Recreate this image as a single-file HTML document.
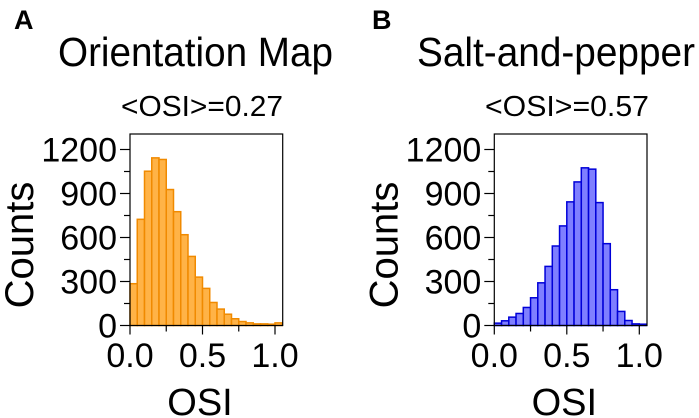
<!DOCTYPE html>
<html><head><meta charset="utf-8"><style>
html,body{margin:0;padding:0;background:#fff;}
svg{display:block;font-family:"Liberation Sans",Arial,sans-serif;}
</style></head><body>
<svg id="fig" width="699" height="418" viewBox="0 0 699 418">
<text x="14" y="29" font-size="27" font-weight="bold">A</text>
<text x="372" y="29" font-size="27" font-weight="bold">B</text>
<text x="58" y="66" font-size="41" textLength="275" lengthAdjust="spacingAndGlyphs">Orientation Map</text>
<text x="417" y="66" font-size="41" textLength="278" lengthAdjust="spacingAndGlyphs">Salt-and-pepper</text>
<text x="121" y="116" font-size="29" textLength="162" lengthAdjust="spacingAndGlyphs">&lt;OSI&gt;=0.27</text>
<text x="485" y="116" font-size="29" textLength="164" lengthAdjust="spacingAndGlyphs">&lt;OSI&gt;=0.57</text>
<g id="pa"></g><g id="pb"></g>
</svg>
<script>
const binWidth = 0.05;
const yTicks = [0, 300, 600, 900, 1200];
const xTicks = [0.0, 0.5, 1.0];
const xTickLabels = ["0.0", "0.5", "1.0"];
const countsA = [285,724,1052,1143,1132,927,776,619,471,330,253,157,112,77,46,27,18,11,11,9,18];
const countsB = [16,32,57,82,123,189,291,403,542,679,843,979,1075,1066,838,558,244,96,34,11,9];
const NS = "http://www.w3.org/2000/svg";
function mk(parent, tag, attrs){const e=document.createElementNS(NS,tag);for(const k in attrs)e.setAttribute(k,attrs[k]);parent.appendChild(e);return e;}
function panel(gid, x0, counts, fill, stroke, key){
  const g=document.getElementById(gid);
  const left=x0, right=x0+152.7, top=134, bottom=325.5;
  const xs=v=>left+v*145, ys=v=>bottom-v*(176/1200);
  counts.forEach((c,i)=>{
    const r=mk(g,'rect',{x:xs(i*binWidth),y:ys(c),width:xs(binWidth)-xs(0),height:bottom-ys(c),fill:fill,stroke:stroke,'stroke-width':1.5});
    
    
  });
  const f=mk(g,'rect',{x:left,y:top,width:right-left,height:bottom-top,fill:'none',stroke:'#000','stroke-width':1.2});
  
  
  for(let v=0;v<=1200;v+=150){
    const major=yTicks.includes(v);
    mk(g,'line',{x1:left-(major?10:6),x2:left,y1:ys(v),y2:ys(v),stroke:'#000','stroke-width':1.2});
  }
  yTicks.forEach(v=>{
    const t=mk(g,'text',{x:left-13,y:ys(v)+12,'font-size':34,'text-anchor':'end'});
    t.textContent=v;
    
    
  });
  for(let v=0;v<=1.0001;v+=0.25){
    mk(g,'line',{x1:xs(v),x2:xs(v),y1:bottom,y2:bottom+(Math.abs(v*2-Math.round(v*2))<0.01?9:6),stroke:'#000','stroke-width':1.2});
  }
  xTicks.forEach((v,i)=>{
    const t=mk(g,'text',{x:xs(v),y:367,'font-size':34,'text-anchor':'middle'});
    t.textContent=xTickLabels[i];
    
    
  });
  const xl=mk(g,'text',{x:left+70,y:415,'font-size':38,'text-anchor':'middle'});
  xl.textContent='OSI';
  
  
  const yl=mk(g,'text',{x:0,y:0,'font-size':40,'text-anchor':'middle',transform:`translate(${left-97},245) rotate(-90)`});
  yl.textContent='Counts';
  
  
}
panel('pa',130,countsA,'#FFB347','#F08A00','a');
panel('pb',494.3,countsB,'#7F7FFF','#0000D8','b');
</script>
</body></html>
